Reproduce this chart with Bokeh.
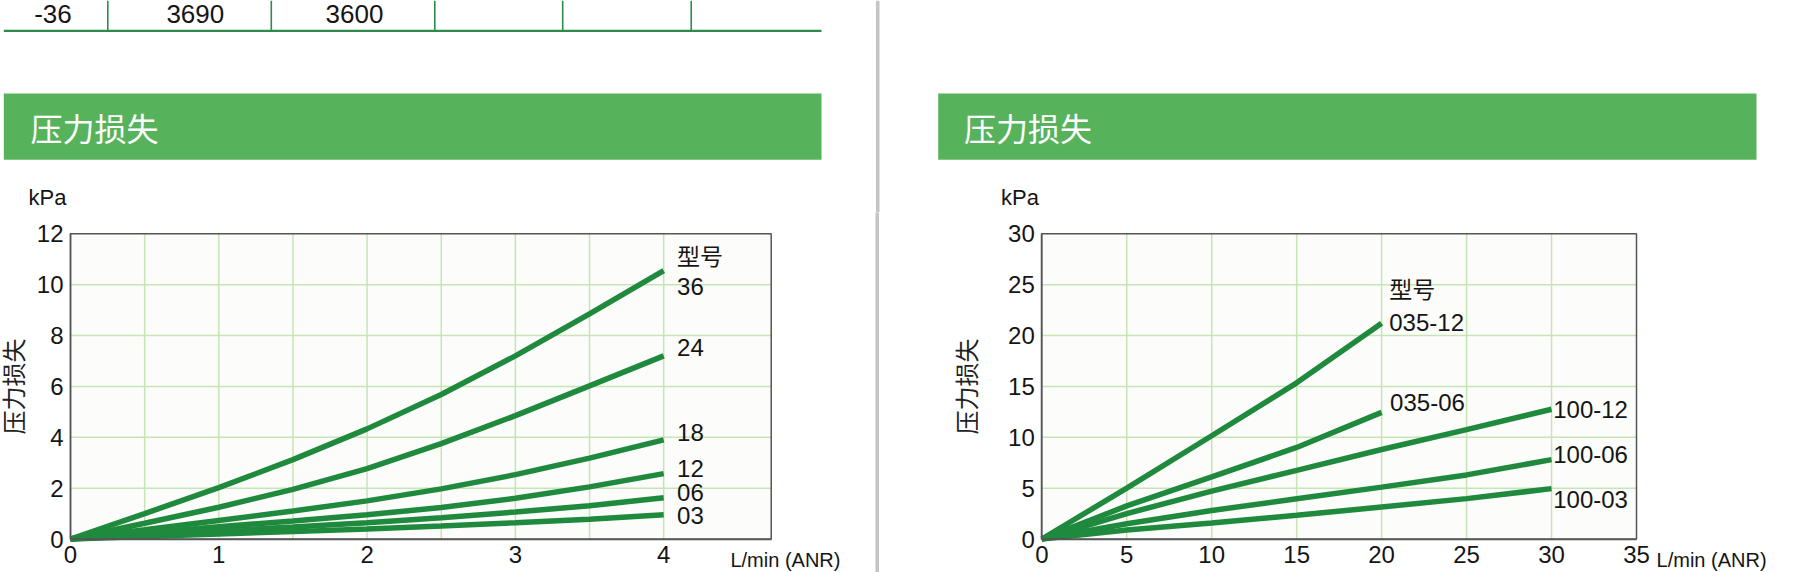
from bokeh.plotting import figure
from bokeh.models import Range1d, FixedTicker, LinearAxis
from bokeh.layouts import column, row
from bokeh.embed import file_html
from bokeh.resources import INLINE
from bokeh.core.properties import value

# ---------------- data ----------------
table_values = ["-36", "3690", "3600"]
section_title = "压力损失"
y_title = "压力损失"
y_unit = "kPa"
x_unit = "L/min (ANR)"
legend_head = "型号"

# left chart (flow L/min (ANR), pressure loss kPa)
left_flow = [0, 0.5, 1, 1.5, 2, 2.5, 3, 3.5, 4]
loss_36 = [0, 1.0, 2.02, 3.12, 4.33, 5.68, 7.2, 8.85, 10.55]
loss_24 = [0, 0.62, 1.25, 1.95, 2.77, 3.75, 4.85, 6.02, 7.2]
loss_18 = [0, 0.36, 0.73, 1.1, 1.5, 1.97, 2.53, 3.18, 3.9]
loss_12 = [0, 0.24, 0.48, 0.71, 0.95, 1.24, 1.6, 2.05, 2.57]
loss_06 = [0, 0.16, 0.32, 0.47, 0.64, 0.84, 1.06, 1.31, 1.62]
loss_03 = [0, 0.1, 0.2, 0.29, 0.39, 0.51, 0.64, 0.78, 0.95]
left_models = ["36", "24", "18", "12", "06", "03"]
left_series = [loss_36, loss_24, loss_18, loss_12, loss_06, loss_03]
left_xticks = [0, 1, 2, 3, 4]
left_yticks = [0, 2, 4, 6, 8, 10, 12]

# right chart
flow_035 = [0, 5, 10, 15, 20]
flow_100 = [0, 5, 10, 15, 20, 25, 30]
loss_035_12 = [0, 5.0, 10.15, 15.35, 21.2]
loss_035_06 = [0, 3.25, 6.1, 9.0, 12.45]
loss_100_12 = [0, 2.5, 4.7, 6.75, 8.8, 10.75, 12.75]
loss_100_06 = [0, 1.5, 2.8, 3.95, 5.1, 6.3, 7.8]
loss_100_03 = [0, 0.88, 1.58, 2.33, 3.15, 3.97, 4.95]
right_models = ["035-12", "035-06", "100-12", "100-06", "100-03"]
right_flows = [flow_035, flow_035, flow_100, flow_100, flow_100]
right_series = [loss_035_12, loss_035_06, loss_100_12, loss_100_06, loss_100_03]
right_xticks = [0, 5, 10, 15, 20, 25, 30, 35]
right_yticks = [0, 5, 10, 15, 20, 25, 30]

# ---------------- styles / placement ----------------
NUM_FONT = "Liberation Sans"
CJK_FONT = "Noto Sans CJK SC"
LINE_GREEN = "#1f8a3e"
BAR_GREEN = "#57b35b"
TABLE_GREEN = "#2e8b4a"
GRID_GREEN = "#c6e5b6"
FRAME_GREY = "#555555"
SEP_GREY = "#c4c4c4"
TEXT = "#151515"

PAGE_W, PAGE_H = 1800, 572
TOP_H = 212
CHART_H = PAGE_H - TOP_H
SEP_X0, SEP_X1 = 875, 879

# ---------------- top decoration strip (pixel coordinates) ----------------
top = figure(width=PAGE_W, height=TOP_H, x_range=Range1d(0, PAGE_W), y_range=Range1d(TOP_H, 0),
             output_backend="svg", toolbar_location=None, x_axis_type=None, y_axis_type=None,
             min_border=0)
top.outline_line_color = None
top.background_fill_color = "white"
top.border_fill_color = "white"

top.segment(x0=[3.3], y0=[30.3], x1=[821], y1=[30.3], line_color=TABLE_GREEN, line_width=2.2)
tx = [107.3, 270.8, 434.3, 562.2, 690.7]
top.segment(x0=tx, y0=[0] * 5, x1=tx, y1=[30] * 5, line_color=TABLE_GREEN, line_width=1.6)
top.text(x=[52.5, 194.8, 354], y=[13] * 3, text=table_values, text_font=value(NUM_FONT),
         text_font_size="26px", text_color=TEXT, text_align="center", text_baseline="middle")

top.quad(left=[3.3, 937.7], right=[821, 1756], top=[93, 93], bottom=[159.3, 159.3],
         fill_color=BAR_GREEN, line_color=None)
top.text(x=[30, 963.5], y=[126.5, 126.5], text=[section_title, section_title],
         text_font=value(CJK_FONT), text_font_size="32px", text_color="white",
         text_align="left", text_baseline="middle")

top.text(x=[28, 1000.5], y=[197, 197], text=[y_unit, y_unit], text_font=value(NUM_FONT),
         text_font_size="22px", text_color=TEXT, text_align="left", text_baseline="middle")

top.quad(left=[SEP_X0 + 0.5], right=[SEP_X1], top=[0], bottom=[TOP_H], fill_color=SEP_GREY,
         line_color=None)


def make_chart(fig_px, box_px, xmax, ymax, xticks, yticks, xgrid, ygrid, label_standoff):
    fx0, fx1 = fig_px
    bx0, bx1, by_top, by_bot = box_px
    xpp = xmax / (bx1 - bx0)
    ypp = ymax / (by_bot - by_top)
    p = figure(width=int(fx1 - fx0), height=CHART_H,
               x_range=Range1d((fx0 - bx0) * xpp, (fx1 - bx0) * xpp),
               y_range=Range1d(-(PAGE_H - by_bot) * ypp, (by_bot - TOP_H) * ypp),
               output_backend="svg", toolbar_location=None, x_axis_type=None, y_axis_type=None,
               min_border=0)
    p.outline_line_color = None
    p.background_fill_color = "white"
    p.border_fill_color = "white"

    # plotting box background
    p.quad(left=[0], right=[xmax], bottom=[0], top=[ymax], fill_color="#fcfcfa",
           line_color=None, level="image")
    # grid lines
    p.segment(x0=xgrid, y0=[0] * len(xgrid), x1=xgrid, y1=[ymax] * len(xgrid),
              line_color=GRID_GREEN, line_width=1.5, level="underlay")
    p.segment(x0=[0] * len(ygrid), y0=ygrid, x1=[xmax] * len(ygrid), y1=ygrid,
              line_color=GRID_GREEN, line_width=1.5, level="underlay")

    xaxis = LinearAxis(fixed_location=0, bounds=(0, xmax), ticker=FixedTicker(ticks=xticks))
    yaxis = LinearAxis(fixed_location=0, bounds=(0, ymax), ticker=FixedTicker(ticks=yticks))
    for ax in (xaxis, yaxis):
        ax.axis_line_color = FRAME_GREY
        ax.axis_line_width = 1.5
        ax.major_tick_out = 0
        ax.major_tick_in = 0
        ax.minor_tick_out = 0
        ax.minor_tick_in = 0
        ax.major_label_text_font = NUM_FONT
        ax.major_label_text_font_size = "24px"
        ax.major_label_text_color = TEXT
    xaxis.major_label_standoff = 7
    yaxis.major_label_standoff = 7
    yaxis.axis_label = y_title
    yaxis.axis_label_text_font = CJK_FONT
    yaxis.axis_label_text_font_size = "24px"
    yaxis.axis_label_text_font_style = "normal"
    yaxis.axis_label_text_color = "#222222"
    yaxis.axis_label_standoff = label_standoff
    p.add_layout(xaxis, "below")
    p.add_layout(yaxis, "left")
    return p


def add_box_outline(p, xmax, ymax):
    p.quad(left=[0], right=[xmax], bottom=[0], top=[ymax], fill_color=None,
           line_color=FRAME_GREY, line_width=1.5)


# ---------------- left chart ----------------
L_XMAX, L_YMAX = 4.725, 12
left = make_chart((0, SEP_X0), (70, 770.7, 233.3, 538.5), L_XMAX, L_YMAX,
                  left_xticks, left_yticks, [0.5, 1, 1.5, 2, 2.5, 3, 3.5, 4],
                  [2, 4, 6, 8, 10], 4)
for ys in left_series:
    left.line(left_flow, ys, line_color=LINE_GREEN, line_width=5.5)
add_box_outline(left, L_XMAX, L_YMAX)

left_label_x = left_flow[-1] + 0.09
left_label_y = [9.93, 7.51, 4.17, 2.76, 1.81, 0.94]
left.text(x=[left_label_x] * len(left_models), y=left_label_y, text=left_models,
          text_font=value(NUM_FONT), text_font_size="24px", text_color=TEXT,
          text_align="left", text_baseline="middle")
left.text(x=[left_label_x], y=[11.17], text=[legend_head], text_font=value(CJK_FONT),
          text_font_size="23px", text_color=TEXT, text_align="left", text_baseline="middle")
left.text(x=[4.45], y=[-0.41], text=[x_unit], text_font=value(NUM_FONT),
          text_font_size="20px", text_color=TEXT, text_align="left", text_baseline="top")

# ---------------- separator ----------------
sep = figure(width=SEP_X1 - SEP_X0, height=CHART_H, output_backend="svg", toolbar_location=None,
             x_axis_type=None, y_axis_type=None, min_border=0)
sep.outline_line_color = None
sep.background_fill_color = SEP_GREY
sep.border_fill_color = SEP_GREY

# ---------------- right chart ----------------
R_XMAX, R_YMAX = 35, 30
right = make_chart((SEP_X1, PAGE_W), (1041.3, 1636, 233.3, 538.5), R_XMAX, R_YMAX,
                   right_xticks, right_yticks, [5, 10, 15, 20, 25, 30],
                   [5, 10, 15, 20, 25], 22)
for xs, ys in zip(right_flows, right_series):
    right.line(xs, ys, line_color=LINE_GREEN, line_width=5.5)
add_box_outline(right, R_XMAX, R_YMAX)

right_label_x = [flow_035[-1] + 0.45, flow_035[-1] + 0.5, flow_100[-1] + 0.1,
                 flow_100[-1] + 0.1, flow_100[-1] + 0.1]
right_label_y = [21.24, 13.42, 12.73, 8.31, 3.91]
right.text(x=right_label_x, y=right_label_y, text=right_models,
           text_font=value(NUM_FONT), text_font_size="24px", text_color=TEXT,
           text_align="left", text_baseline="middle")
right.text(x=[flow_035[-1] + 0.45], y=[24.63], text=[legend_head], text_font=value(CJK_FONT),
           text_font_size="23px", text_color=TEXT, text_align="left", text_baseline="middle")
right.text(x=[36.18], y=[-1.03], text=[x_unit], text_font=value(NUM_FONT),
           text_font_size="20px", text_color=TEXT, text_align="left", text_baseline="top")

layout = column(top, row(left, sep, right))
open("out.html", "w").write(file_html(layout, INLINE))
